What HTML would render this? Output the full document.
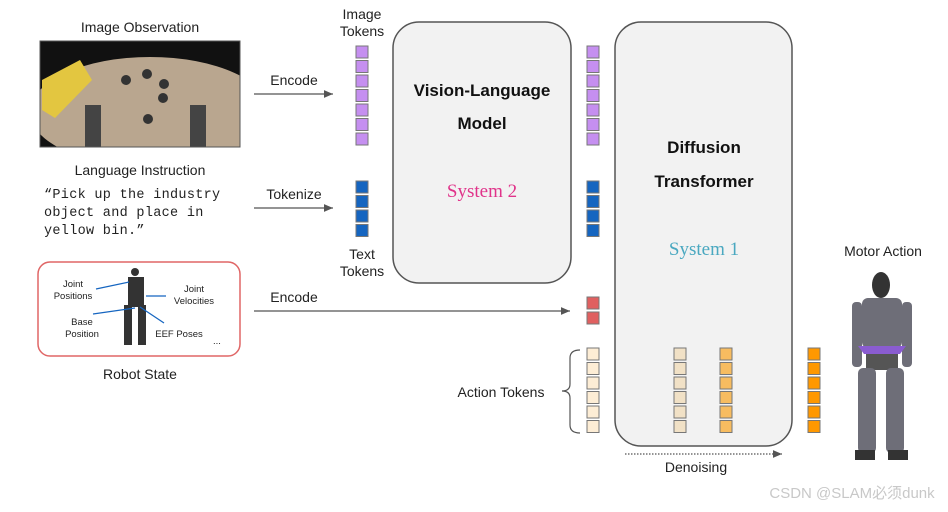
<!DOCTYPE html>
<html><head><style>
body{margin:0;background:#fff;}
svg text{font-family:"Liberation Sans","Noto Sans CJK SC",sans-serif;}
</style></head><body>
<svg width="948" height="507" viewBox="0 0 948 507" xmlns="http://www.w3.org/2000/svg">
<defs>
<marker id="ah" markerWidth="8" markerHeight="8" refX="7" refY="4" orient="auto"><path d="M0,1 L7,4 L0,7 z" fill="#555"/></marker>
<clipPath id="ph"><rect x="40" y="41" width="200" height="106"/></clipPath>
<g id="col"><rect x="0" y="348" width="12" height="12"/><rect x="0" y="362.5" width="12" height="12"/><rect x="0" y="377" width="12" height="12"/><rect x="0" y="391.5" width="12" height="12"/><rect x="0" y="406" width="12" height="12"/><rect x="0" y="420.5" width="12" height="12"/></g>
</defs>
<rect width="948" height="507" fill="#fff"/>
<text x="140" y="32" font-size="14" text-anchor="middle" fill="#222">Image Observation</text>
<rect x="40" y="41" width="200" height="106" fill="#111"/>
<g clip-path="url(#ph)">
<ellipse cx="150" cy="112" rx="120" ry="55" fill="#b9a68f"/>
<polygon points="42,80 80,60 92,80 55,118 42,110" fill="#e3c640"/>
<rect x="85" y="105" width="16" height="42" fill="#444"/>
<rect x="190" y="105" width="16" height="42" fill="#444"/>
<circle cx="126" cy="80" r="5" fill="#333"/><circle cx="147" cy="74" r="5" fill="#333"/><circle cx="164" cy="84" r="5" fill="#333"/><circle cx="163" cy="98" r="5" fill="#333"/><circle cx="148" cy="119" r="5" fill="#333"/>
</g>
<rect x="40" y="41" width="200" height="106" fill="none" stroke="#555"/>
<text x="140" y="175" font-size="14" text-anchor="middle" fill="#222">Language Instruction</text>
<text font-size="13.5" fill="#222" style="font-family:'Liberation Mono',monospace;letter-spacing:0.3px">
<tspan x="44" y="198">“Pick up the industry</tspan><tspan x="44" y="216">object and place in</tspan><tspan x="44" y="234">yellow bin.”</tspan></text>
<rect x="38" y="262" width="202" height="94" rx="12" fill="#fff" stroke="#e06666" stroke-width="1.5"/>
<g fill="#333"><circle cx="135" cy="272" r="4"/><rect x="128" y="277" width="16" height="30"/><rect x="124" y="305" width="8" height="40"/><rect x="138" y="305" width="8" height="40"/></g>
<g stroke="#1565c0" stroke-width="1.2"><line x1="96" y1="289" x2="129" y2="282"/><line x1="146" y1="296" x2="166" y2="296"/><line x1="93" y1="314" x2="135" y2="308"/><line x1="140" y1="307" x2="164" y2="323"/></g>
<g font-size="9.5" fill="#222" text-anchor="middle"><text x="73" y="287">Joint</text><text x="73" y="299">Positions</text><text x="194" y="292">Joint</text><text x="194" y="304">Velocities</text><text x="82" y="325">Base</text><text x="82" y="337">Position</text><text x="179" y="337">EEF Poses</text><text x="217" y="344">...</text></g>
<text x="140" y="379" font-size="14" text-anchor="middle" fill="#222">Robot State</text>
<g stroke="#555" stroke-width="1.3" fill="none">
<line x1="254" y1="94" x2="333" y2="94" marker-end="url(#ah)"/>
<line x1="254" y1="208" x2="333" y2="208" marker-end="url(#ah)"/>
<line x1="254" y1="311" x2="570" y2="311" marker-end="url(#ah)"/>
<line x1="625" y1="454" x2="782" y2="454" stroke-dasharray="1.5,1.5" marker-end="url(#ah)"/>
</g>
<g font-size="14" fill="#222" text-anchor="middle">
<text x="294" y="85">Encode</text><text x="294" y="199">Tokenize</text><text x="294" y="302">Encode</text>
<text x="362" y="19">Image</text><text x="362" y="36">Tokens</text>
<text x="362" y="259">Text</text><text x="362" y="276">Tokens</text>
<text x="501" y="397">Action Tokens</text>
<text x="696" y="472">Denoising</text>
<text x="883" y="256">Motor Action</text>
</g>
<rect x="393" y="22" width="178" height="261" rx="26" fill="#f2f2f2" stroke="#555" stroke-width="1.5"/>
<rect x="615" y="22" width="177" height="424" rx="26" fill="#f2f2f2" stroke="#555" stroke-width="1.5"/>
<g font-size="17" font-weight="bold" fill="#111" text-anchor="middle">
<text x="482" y="96">Vision-Language</text><text x="482" y="129">Model</text>
<text x="704" y="153">Diffusion</text><text x="704" y="187">Transformer</text></g>
<text x="482" y="197" font-size="19" fill="#e0338a" text-anchor="middle" style="font-family:'Liberation Serif',serif">System 2</text>
<text x="704" y="255" font-size="19" fill="#4aa8c0" text-anchor="middle" style="font-family:'Liberation Serif',serif">System 1</text>
<g stroke="#777" stroke-width="1">
<g fill="#c58ff0">
<rect x="356" y="46" width="12" height="12"/><rect x="356" y="60.5" width="12" height="12"/><rect x="356" y="75" width="12" height="12"/><rect x="356" y="89.5" width="12" height="12"/><rect x="356" y="104" width="12" height="12"/><rect x="356" y="118.5" width="12" height="12"/><rect x="356" y="133" width="12" height="12"/>
<rect x="587" y="46" width="12" height="12"/><rect x="587" y="60.5" width="12" height="12"/><rect x="587" y="75" width="12" height="12"/><rect x="587" y="89.5" width="12" height="12"/><rect x="587" y="104" width="12" height="12"/><rect x="587" y="118.5" width="12" height="12"/><rect x="587" y="133" width="12" height="12"/></g>
<g fill="#1565c0">
<rect x="356" y="181" width="12" height="12"/><rect x="356" y="195.5" width="12" height="12"/><rect x="356" y="210" width="12" height="12"/><rect x="356" y="224.5" width="12" height="12"/>
<rect x="587" y="181" width="12" height="12"/><rect x="587" y="195.5" width="12" height="12"/><rect x="587" y="210" width="12" height="12"/><rect x="587" y="224.5" width="12" height="12"/></g>
<g fill="#e06060"><rect x="587" y="297" width="12" height="12"/><rect x="587" y="312" width="12" height="12"/></g>
<use href="#col" x="587" fill="#fdedd5"/>
<use href="#col" x="674" fill="#f1e1c6"/>
<use href="#col" x="720" fill="#f7bc60"/>
<use href="#col" x="808" fill="#ff9800"/>
</g>
<path d="M580,350 Q570,350 570,358 L570,384 Q570,391 562,391 Q570,391 570,398 L570,425 Q570,433 580,433" fill="none" stroke="#555" stroke-width="1.2"/>
<g fill="#6e6e78">
<ellipse cx="881" cy="285" rx="9" ry="13" fill="#333"/>
<rect x="862" y="298" width="40" height="50" rx="6"/>
<rect x="852" y="302" width="10" height="65" rx="4"/>
<rect x="902" y="302" width="10" height="65" rx="4"/>
<rect x="866" y="348" width="32" height="22" fill="#555"/>
<rect x="858" y="368" width="18" height="85" rx="5"/>
<rect x="886" y="368" width="18" height="85" rx="5"/>
<rect x="855" y="450" width="20" height="10" fill="#333"/>
<rect x="888" y="450" width="20" height="10" fill="#333"/>
</g>
<path d="M858,346 L906,346 L900,354 L864,354z" fill="#8a5cd0"/>
<text x="852" y="498" font-size="15" fill="#c8c8c8" text-anchor="middle">CSDN @SLAM必须dunk</text>
</svg>
</body></html>
